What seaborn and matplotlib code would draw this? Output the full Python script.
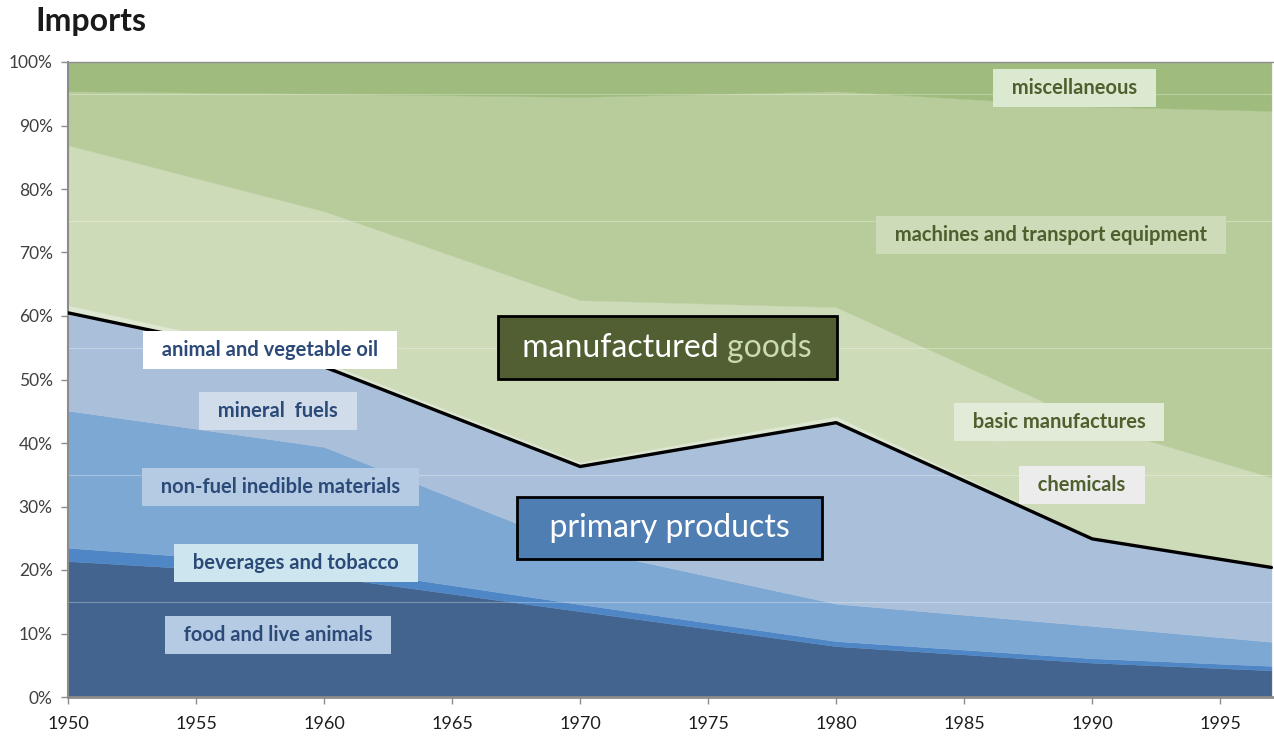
import matplotlib.pyplot as plt
import seaborn as sns
import pandas as pd
from matplotlib.ticker import FuncFormatter, MultipleLocator
from matplotlib.offsetbox import TextArea, HPacker, AnnotationBbox

# shares of imports (%) per product group
years = [1950, 1960, 1970, 1980, 1990, 1997]
food = [21.4, 19.0, 13.5, 8.0, 5.4, 4.2]
beverages = [2.1, 1.6, 1.1, 0.8, 0.7, 0.7]
non_fuel = [21.6, 18.8, 8.8, 5.9, 5.1, 3.8]
mineral_fuels = [15.4, 12.6, 12.9, 28.5, 13.7, 11.7]
oil = [1.2, 0.8, 0.7, 1.0, 0.3, 0.2]
chemicals = [5.0, 6.0, 7.5, 6.5, 8.5, 7.5]
basic_manuf = [20.2, 17.7, 18.0, 10.7, 9.3, 6.5]
machines = [8.5, 18.5, 32.0, 34.0, 50.0, 57.7]
misc = [4.6, 5.0, 5.5, 4.6, 7.0, 7.7]

series_names = ["food and live animals", "beverages and tobacco", "non-fuel inedible materials",
                "mineral  fuels", "animal and vegetable oil", "chemicals", "basic manufactures",
                "machines and transport equipment", "miscellaneous"]
series_colors = ["#42648e", "#4f86c6", "#7ea8d4", "#aac0da", "#dde7d2",
                 "#cddbb8", "#cddbb8", "#b8cc9b", "#9fbb7d"]

df = pd.DataFrame({"year": years, "food": food, "beverages": beverages, "non_fuel": non_fuel,
                   "mineral_fuels": mineral_fuels, "oil": oil, "chemicals": chemicals,
                   "basic_manuf": basic_manuf, "machines": machines, "misc": misc})
cols = ["food", "beverages", "non_fuel", "mineral_fuels", "oil", "chemicals",
        "basic_manuf", "machines", "misc"]
df["primary_line"] = df[["food", "beverages", "non_fuel", "mineral_fuels"]].sum(axis=1)

sns.set_style("white")
plt.rcParams["font.family"] = ["Lato", "DejaVu Sans"]

fig = plt.figure(figsize=(12.74, 7.43), dpi=100)
ax = fig.add_axes([68 / 1274, 46 / 743, 1206 / 1274, 635 / 743])

ax.stackplot(df["year"], [df[c] for c in cols], colors=series_colors,
             edgecolor="face", linewidth=0.3, zorder=1)

# faint white guide lines
for g in [15, 35, 55, 75, 95]:
    ax.axhline(g, color="white", alpha=0.3, lw=0.8, zorder=2)

sns.lineplot(x=df["year"], y=df["primary_line"], color="black", lw=2.4, ax=ax, zorder=3)

ax.set_xlim(1950, 1997.1)
ax.set_ylim(0, 100)
ax.xaxis.set_major_locator(MultipleLocator(5))
ax.yaxis.set_major_locator(MultipleLocator(10))
ax.yaxis.set_major_formatter(FuncFormatter(lambda v, p: f"{int(v)}%"))
ax.set_xlabel("")
ax.set_ylabel("")

for s in ["left", "bottom", "top"]:
    ax.spines[s].set_color("#8c8c8c")
ax.spines["left"].set_linewidth(1.5)
ax.spines["bottom"].set_linewidth(2)
ax.spines["top"].set_linewidth(1)
ax.spines["right"].set_visible(False)
ax.tick_params(axis="x", direction="out", length=5, width=1, color="#8c8c8c",
               labelsize=13, labelcolor="#1e1e1e", pad=9)
ax.tick_params(axis="y", direction="out", length=5, width=1, color="#8c8c8c",
               labelsize=12.5, labelcolor="#404040", pad=6)
ax.tick_params(bottom=True, left=True)

fig.text(35 / 1274, 1 - 22 / 743, "Imports", fontsize=23, fontweight="bold",
         color="#1a1a1a", ha="left", va="center")

blue_txt = "#2c4a78"
green_txt = "#4f5f2d"
labels = [
    ("animal and vegetable oil", 1957.9, 54.6, "#ffffff", blue_txt),
    ("mineral  fuels", 1958.2, 45.0, "#d0dcea", blue_txt),
    ("non-fuel inedible materials", 1958.3, 33.1, "#b5cbe4", blue_txt),
    ("beverages and tobacco", 1958.9, 21.1, "#cce5ee", blue_txt),
    ("food and live animals", 1958.2, 9.8, "#b5cbe4", blue_txt),
    ("miscellaneous", 1989.3, 95.9, "#dae9cf", green_txt),
    ("machines and transport equipment", 1988.4, 72.8, "#cddbb8", green_txt),
    ("basic manufactures", 1988.7, 43.3, "#e2ead8", green_txt),
    ("chemicals", 1989.6, 33.4, "#ececec", green_txt),
]
for txt, x, y, fc, tc in labels:
    ax.text(x, y, "  " + txt + "  ", ha="center", va="center", fontsize=14.5,
            fontweight="bold", color=tc, zorder=5,
            bbox=dict(boxstyle="square,pad=0.45", fc=fc, ec="none"))

# big group labels
ax.text(1973.5, 26.6, "  primary products  ", ha="center", va="center", fontsize=23,
        color="white", zorder=6,
        bbox=dict(boxstyle="square,pad=0.5", fc="#4f7eb2", ec="black", lw=2))

pack = HPacker(children=[TextArea(" manufactured", textprops=dict(fontsize=23, color="white")),
                         TextArea("goods ", textprops=dict(fontsize=23, color="#c9dbb0"))],
               align="baseline", pad=0, sep=6)
ab = AnnotationBbox(pack, (1973.4, 55.0), xycoords="data", frameon=True,
                    box_alignment=(0.5, 0.5), fontsize=23, zorder=6,
                    bboxprops=dict(boxstyle="square,pad=0.52", fc="#525f32", ec="black", lw=2))
ax.add_artist(ab)

fig.savefig("out.png", dpi=100)
